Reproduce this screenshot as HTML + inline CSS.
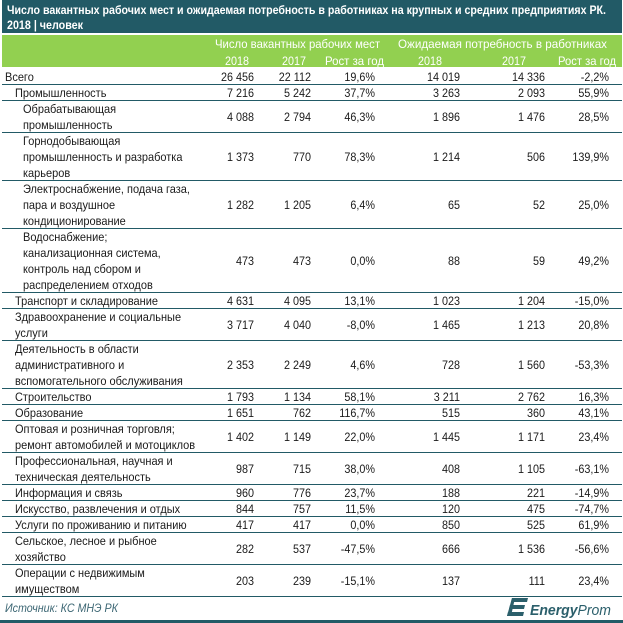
<!DOCTYPE html>
<html><head><meta charset="utf-8">
<style>
html,body{margin:0;padding:0;background:#fff;}
svg{display:block;}
text{font-family:"Liberation Sans","Noto Sans CJK JP",sans-serif;}
</style></head>
<body>
<svg width="623" height="623" viewBox="0 0 623 623" xmlns="http://www.w3.org/2000/svg">
<rect x="0" y="0" width="623" height="623" fill="#ffffff"/>
<!-- title bar -->
<rect x="2" y="0" width="620" height="33" fill="#225a66"/>
<text x="7" y="14" font-size="12" font-weight="bold" fill="#ffffff" textLength="599" lengthAdjust="spacingAndGlyphs">Число вакантных рабочих мест и ожидаемая потребность  в работниках на крупных и средних предприятиях РК.</text>
<text x="7" y="29" font-size="12" font-weight="bold" fill="#ffffff" textLength="76" lengthAdjust="spacingAndGlyphs">2018 | человек</text>
<!-- green header -->
<rect x="2" y="35" width="620" height="32" fill="#92d050"/>
<g font-size="12" fill="#ffffff">
<text x="215" y="48" textLength="165" lengthAdjust="spacingAndGlyphs">Число вакантных рабочих мест</text>
<text x="398" y="48" textLength="209" lengthAdjust="spacingAndGlyphs">Ожидаемая потребность  в работниках</text>
<text x="225" y="65" textLength="24" lengthAdjust="spacingAndGlyphs">2018</text>
<text x="282" y="65" textLength="24" lengthAdjust="spacingAndGlyphs">2017</text>
<text x="325" y="65" textLength="59" lengthAdjust="spacingAndGlyphs">Рост за год</text>
<text x="418" y="65" textLength="24" lengthAdjust="spacingAndGlyphs">2018</text>
<text x="502" y="65" textLength="24" lengthAdjust="spacingAndGlyphs">2017</text>
<text x="558" y="65" textLength="58" lengthAdjust="spacingAndGlyphs">Рост за год</text>
</g>
<!-- row lines -->
<g fill="#225a66">
<rect x="2" y="84" width="620" height="1"/>
<rect x="2" y="100" width="620" height="1"/>
<rect x="2" y="132" width="620" height="1"/>
<rect x="2" y="180" width="620" height="1"/>
<rect x="2" y="228" width="620" height="1"/>
<rect x="2" y="292" width="620" height="1"/>
<rect x="2" y="308" width="620" height="1"/>
<rect x="2" y="340" width="620" height="1"/>
<rect x="2" y="388" width="620" height="1"/>
<rect x="2" y="404" width="620" height="1"/>
<rect x="2" y="420" width="620" height="1"/>
<rect x="2" y="452" width="620" height="1"/>
<rect x="2" y="484" width="620" height="1"/>
<rect x="2" y="500" width="620" height="1"/>
<rect x="2" y="516" width="620" height="1"/>
<rect x="2" y="532" width="620" height="1"/>
<rect x="2" y="564" width="620" height="1"/>
<rect x="2" y="596" width="620" height="1"/>
<rect x="0" y="620" width="623" height="3"/>
</g>
<!-- labels -->
<g font-size="12" fill="#1a1a1a" transform="scale(0.917,1)">
<text x="5.45" y="81">Всего</text>
<text x="16.36" y="97">Промышленность</text>
<text x="25.08" y="113">Обрабатывающая</text>
<text x="25.08" y="129">промышленность</text>
<text x="25.08" y="145">Горнодобывающая</text>
<text x="25.08" y="161">промышленность и разработка</text>
<text x="25.08" y="177">карьеров</text>
<text x="25.08" y="193">Электроснабжение, подача газа,</text>
<text x="25.08" y="209">пара и воздушное</text>
<text x="25.08" y="225">кондиционирование</text>
<text x="25.08" y="241">Водоснабжение;</text>
<text x="25.08" y="257">канализационная система,</text>
<text x="25.08" y="273">контроль над сбором и</text>
<text x="25.08" y="289">распределением отходов</text>
<text x="16.36" y="305">Транспорт и складирование</text>
<text x="16.36" y="321">Здравоохранение и социальные</text>
<text x="16.36" y="337">услуги</text>
<text x="16.36" y="353">Деятельность в области</text>
<text x="16.36" y="369">административного и</text>
<text x="16.36" y="385">вспомогательного обслуживания</text>
<text x="16.36" y="401">Строительство</text>
<text x="16.36" y="417">Образование</text>
<text x="16.36" y="433">Оптовая и розничная торговля;</text>
<text x="16.36" y="449">ремонт автомобилей и мотоциклов</text>
<text x="16.36" y="465">Профессиональная, научная и</text>
<text x="16.36" y="481">техническая деятельность</text>
<text x="16.36" y="497">Информация и связь</text>
<text x="16.36" y="513">Искусство, развлечения и отдых</text>
<text x="16.36" y="529">Услуги по проживанию и питанию</text>
<text x="16.36" y="545">Сельское, лесное и рыбное</text>
<text x="16.36" y="561">хозяйство</text>
<text x="16.36" y="577">Операции с недвижимым</text>
<text x="16.36" y="593">имуществом</text>
</g>
<!-- numbers by column -->
<g font-size="12" fill="#1a1a1a" text-anchor="end">
<g transform="translate(254,0) scale(0.9,1)">
<text y="81">26 456</text><text y="97">7 216</text><text y="121">4 088</text><text y="161">1 373</text><text y="209">1 282</text><text y="265">473</text><text y="305">4 631</text><text y="329">3 717</text><text y="369">2 353</text><text y="401">1 793</text><text y="417">1 651</text><text y="441">1 402</text><text y="473">987</text><text y="497">960</text><text y="513">844</text><text y="529">417</text><text y="553">282</text><text y="585">203</text>
</g>
<g transform="translate(311,0) scale(0.9,1)">
<text y="81">22 112</text><text y="97">5 242</text><text y="121">2 794</text><text y="161">770</text><text y="209">1 205</text><text y="265">473</text><text y="305">4 095</text><text y="329">4 040</text><text y="369">2 249</text><text y="401">1 134</text><text y="417">762</text><text y="441">1 149</text><text y="473">715</text><text y="497">776</text><text y="513">757</text><text y="529">417</text><text y="553">537</text><text y="585">239</text>
</g>
<g transform="translate(375,0) scale(0.9,1)">
<text y="81">19,6%</text><text y="97">37,7%</text><text y="121">46,3%</text><text y="161">78,3%</text><text y="209">6,4%</text><text y="265">0,0%</text><text y="305">13,1%</text><text y="329">-8,0%</text><text y="369">4,6%</text><text y="401">58,1%</text><text y="417">116,7%</text><text y="441">22,0%</text><text y="473">38,0%</text><text y="497">23,7%</text><text y="513">11,5%</text><text y="529">0,0%</text><text y="553">-47,5%</text><text y="585">-15,1%</text>
</g>
<g transform="translate(460,0) scale(0.9,1)">
<text y="81">14 019</text><text y="97">3 263</text><text y="121">1 896</text><text y="161">1 214</text><text y="209">65</text><text y="265">88</text><text y="305">1 023</text><text y="329">1 465</text><text y="369">728</text><text y="401">3 211</text><text y="417">515</text><text y="441">1 445</text><text y="473">408</text><text y="497">188</text><text y="513">120</text><text y="529">850</text><text y="553">666</text><text y="585">137</text>
</g>
<g transform="translate(545,0) scale(0.9,1)">
<text y="81">14 336</text><text y="97">2 093</text><text y="121">1 476</text><text y="161">506</text><text y="209">52</text><text y="265">59</text><text y="305">1 204</text><text y="329">1 213</text><text y="369">1 560</text><text y="401">2 762</text><text y="417">360</text><text y="441">1 171</text><text y="473">1 105</text><text y="497">221</text><text y="513">475</text><text y="529">525</text><text y="553">1 536</text><text y="585">111</text>
</g>
<g transform="translate(609,0) scale(0.9,1)">
<text y="81">-2,2%</text><text y="97">55,9%</text><text y="121">28,5%</text><text y="161">139,9%</text><text y="209">25,0%</text><text y="265">49,2%</text><text y="305">-15,0%</text><text y="329">20,8%</text><text y="369">-53,3%</text><text y="401">16,3%</text><text y="417">43,1%</text><text y="441">23,4%</text><text y="473">-63,1%</text><text y="497">-14,9%</text><text y="513">-74,7%</text><text y="529">61,9%</text><text y="553">-56,6%</text><text y="585">23,4%</text>
</g>
</g>
<!-- source -->
<text x="5" y="612" font-size="12" font-style="italic" fill="#3d6774" textLength="113" lengthAdjust="spacingAndGlyphs">Источник: КС МНЭ РК</text>
<!-- logo -->
<g fill="#2b5f6b">
<polygon points="512,598 528,598 527,602 511,602"/>
<polygon points="510,605 525,605 524,609 509,609"/>
<polygon points="508,612 524,612 523,616 507,616"/>
<polygon points="512,598 515,598 511,616 507,616"/>
</g>
<text x="530" y="615" font-size="15" font-style="italic" fill="#2b5f6b" textLength="81" lengthAdjust="spacingAndGlyphs"><tspan font-weight="bold">Energy</tspan>Prom</text>
</svg>
</body></html>
